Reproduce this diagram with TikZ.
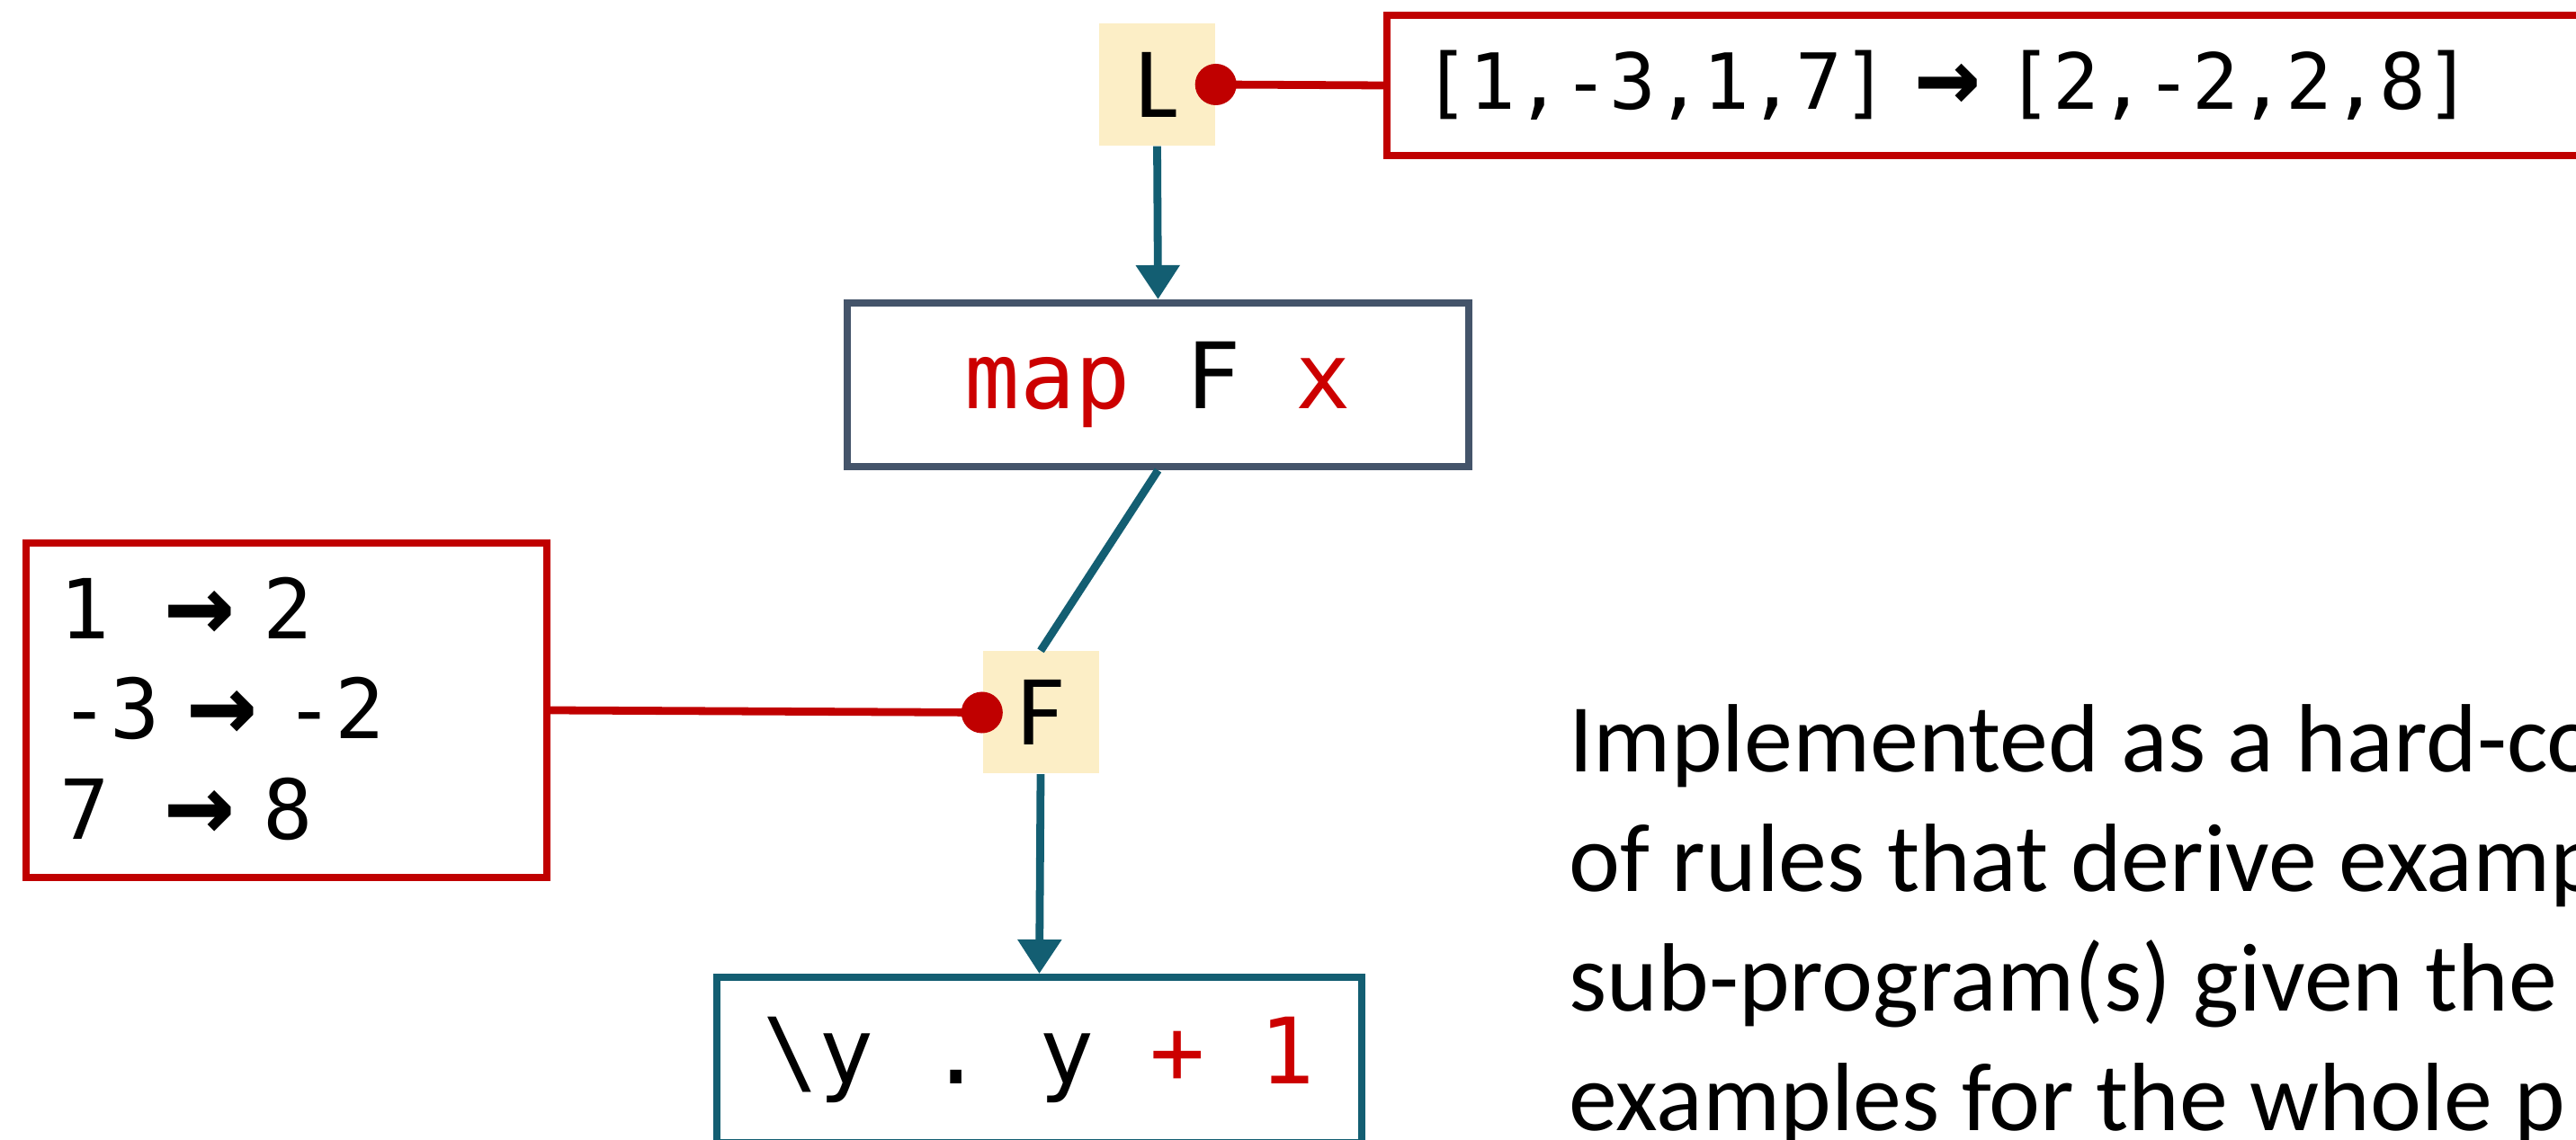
\documentclass[tikz,border=0pt]{standalone}
\usepackage{fontspec}
\setmainfont{Carlito}
\setmonofont{DejaVu Sans Mono}
\usetikzlibrary{arrows.meta}
\definecolor{ExRed}{HTML}{C00000}
\definecolor{CodeRed}{HTML}{CC0000}
\definecolor{FlowTeal}{HTML}{135E72}
\definecolor{SlateBlue}{HTML}{44546A}
\definecolor{HoleYellow}{HTML}{FCEEC6}
\newcommand{\exto}{\raisebox{-0.05em}{\scalebox{1.4}{\textbf{→}}}}
\tikzset{
  hole/.style={fill=HoleYellow,minimum width=1.29cm,minimum height=1.36cm,
    inner sep=0pt,font=\fontsize{32}{38}\selectfont},
  exbox/.style={draw=ExRed,line width=2.3pt,fill=white,align=left,
    inner ysep=0pt,font=\fontsize{24.5}{29}\selectfont\ttfamily},
  codebox/.style={line width=2.3pt,fill=white,minimum height=1.82cm,
    inner sep=0pt,font=\fontsize{29}{35}\selectfont\ttfamily},
  flow/.style={-{Triangle[width=0.47cm,length=0.38cm]},line width=2.5pt,draw=FlowTeal},
  link/.style={line width=2.5pt,draw=FlowTeal},
  exlink/.style={{Circle[length=0.46cm]}-,shorten <=-0.23cm,line width=2.5pt,draw=ExRed},
  note/.style={align=left,inner sep=0pt,font=\fontsize{30.7}{37.8}\selectfont},
}

\begin{document}
\begin{tikzpicture}
  \useasboundingbox (0,0) rectangle (28.64,12.67);
  \clip (0,0) rectangle (28.64,12.67);
  % holes
  \node[hole] (L) at (12.865,11.73) {L};
  \node[hole] (F) at (11.57,4.745) {F};
  % program boxes
  \node[codebox,draw=SlateBlue,minimum width=6.91cm] (map) at (12.875,8.39)
    {\textcolor{CodeRed}{map} F \textcolor{CodeRed}{x}};
  \node[codebox,draw=FlowTeal,minimum width=7.17cm,minimum height=1.84cm] (lam) at (11.555,0.88)
    {\textbackslash y . y \textcolor{CodeRed}{+ 1}};
  % examples
  \node[exbox,text width=12.46cm,inner xsep=0.4cm,minimum height=1.56cm] (topex) at (22.05,11.72)
    {[1,-3,1,7] \exto{} [2,-2,2,8]};
  \node[exbox,text width=5.03cm,inner xsep=0.38cm,minimum height=3.72cm,
    font=\fontsize{26.2}{31.7}\selectfont\ttfamily] (leftex) at (3.185,4.77)
    {1~~\exto{}~2\\-3~\exto{}~-2\\7~~\exto{}~8};
  \node[note,anchor=base west] (desc) at (17.44,0.10)
    {Implemented as a hard-co\\of rules that derive examp\\sub-program(s) given the\\examples for the whole p};
  % connectors
  \draw[flow] (L.south) -- (map.north);
  \draw[link] (map.south) -- (F.north);
  \draw[flow] (F.south) -- (lam.north);
  \draw[exlink] (L.east) -- (topex.west);
  \draw[exlink] (F.west) -- (leftex.east);
\end{tikzpicture}
\end{document}
